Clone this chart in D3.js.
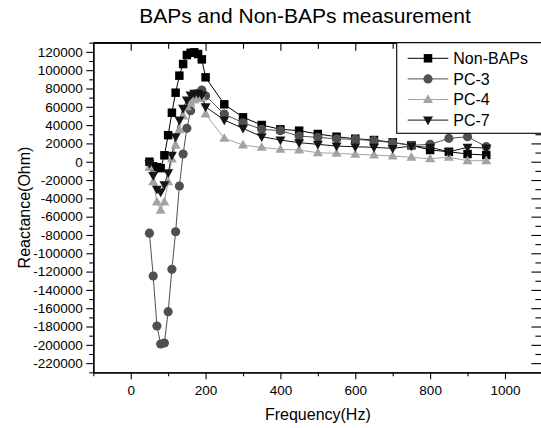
<!DOCTYPE html>
<html>
<head>
<meta charset="utf-8">
<script src="https://cdn.jsdelivr.net/npm/d3@7"></script>
<style>
	html, body { margin: 0; padding: 0; background: #ffffff; }
	svg { display: block; font-family: Arial, 'Liberation Sans', sans-serif; }
</style>
</head>
<body>
<div id="chart"></div>
<script>
const freqs = [50, 60, 70, 80, 90, 100, 110, 120, 130, 140, 150, 160, 170, 180, 190, 200,
	250, 300, 350, 400, 450, 500, 550, 600, 650, 700, 750, 800, 850, 900, 950];

const nonBAPs = [0, -5000, -6000, -7000, 7000, 29000, 53500, 75400, 94000, 106700, 116500, 119000, 119500, 117600, 111800, 92200,
	62700, 48500, 40100, 35400, 33900, 30300, 27300, 25100, 23700, 21200, 17900, 12800, 10900, 8400, 7300];
const pc3 = [-78000, -124800, -179400, -199100, -198000, -163800, -117500, -76500, -26500, 8400, 36500, 55700, 72800, 74700, 78300, 72000,
	52000, 42600, 35400, 33900, 28000, 26600, 25000, 24400, 23000, 20800, 17900, 19000, 25500, 27300, 16400];
const pc4 = [-6000, -22000, -44000, -53000, -44000, -22000, 3000, 18000, 35000, 50000, 60000, 64000, 67400, 69000, 70000, 52100,
	25500, 18200, 15700, 13500, 12800, 9800, 9200, 8100, 7300, 6200, 4800, 3300, 4800, 1100, 1100];
const pc7 = [-2000, -15000, -30000, -33000, -25000, -12000, 7000, 27300, 45500, 58300, 67400, 72800, 74700, 74700, 72800, 60000,
	45500, 36500, 27300, 23700, 20800, 19000, 17100, 16400, 15700, 14600, 17100, 15700, 10900, 15700, 15000];

const seriesNames = ['Non-BAPs', 'PC-3', 'PC-4', 'PC-7'];
const xTicks = [0, 200, 400, 600, 800, 1000];
const xMinorTicks = [-100, 100, 300, 500, 700, 900, 1100];
const yTicks = [120000, 100000, 80000, 60000, 40000, 20000, 0, -20000, -40000, -60000, -80000, -100000,
	-120000, -140000, -160000, -180000, -200000, -220000];
const yMinorTicks = [130000, 110000, 90000, 70000, 50000, 30000, 10000, -10000, -30000, -50000, -70000, -90000,
	-110000, -130000, -150000, -170000, -190000, -210000, -230000];

const W = 541, H = 428;
const plot = { left: 93.3, right: 542.4, top: 42.7, bottom: 372.3 };

const styles = {
	'Non-BAPs': { color: '#000000', line: '#000000', shape: d3.symbolSquare, size: 72 },
	'PC-3': { color: '#505050', line: '#505050', shape: d3.symbolCircle, size: 66 },
	'PC-4': { color: '#a3a3a3', line: '#a3a3a3', shape: 'up', size: 10 },
	'PC-7': { color: '#151515', line: '#151515', shape: 'down', size: 10 }
};

const series = seriesNames.map((name, i) => ({
	name,
	values: [nonBAPs, pc3, pc4, pc7][i].map((v, j) => ({ f: freqs[j], v }))
}));

const x = d3.scaleLinear().domain([-100, 1100]).range([plot.left, plot.right]);
const y = d3.scaleLinear().domain([-230000, 130000]).range([plot.bottom, plot.top]);

const svg = d3.select('#chart').append('svg').attr('width', W).attr('height', H);

function markerPath(st) {
	if (st.shape === 'up') {
		const s = st.size, h = s * 0.87;
		return `M0,${-h * 0.6}L${s / 2},${h * 0.4}L${-s / 2},${h * 0.4}Z`;
	}
	if (st.shape === 'down') {
		const s = st.size, h = s * 0.87;
		return `M0,${h * 0.6}L${s / 2},${-h * 0.4}L${-s / 2},${-h * 0.4}Z`;
	}
	return d3.symbol().type(st.shape).size(st.size)();
}

// axes
const noLabel = () => '';
const axes = svg.append('g').attr('class', 'axes');

axes.append('g')
	.attr('transform', `translate(0, ${plot.bottom})`)
	.call(d3.axisBottom(x).tickValues(xMinorTicks).tickSize(4).tickFormat(noLabel).tickSizeOuter(0));
axes.append('g')
	.attr('transform', `translate(0, ${plot.bottom})`)
	.call(d3.axisBottom(x).tickValues(xTicks).tickSize(7).tickPadding(6).tickSizeOuter(0).tickFormat(d => String(d)));

axes.append('g')
	.attr('transform', `translate(${plot.left}, 0)`)
	.call(d3.axisLeft(y).tickValues(yMinorTicks).tickSize(4).tickFormat(noLabel).tickSizeOuter(0));
axes.append('g')
	.attr('transform', `translate(${plot.left}, 0)`)
	.call(d3.axisLeft(y).tickValues(yTicks).tickSize(7).tickPadding(3.6).tickSizeOuter(0).tickFormat(d => String(d)));

// top and right frame with inward ticks
axes.append('g')
	.attr('transform', `translate(0, ${plot.top})`)
	.call(d3.axisBottom(x).tickValues(xMinorTicks.slice(1, -1)).tickSize(6).tickFormat(noLabel).tickSizeOuter(0));
axes.append('g')
	.attr('transform', `translate(0, ${plot.top})`)
	.call(d3.axisBottom(x).tickValues(xTicks).tickSize(8).tickFormat(noLabel).tickSizeOuter(0));
axes.append('g')
	.attr('transform', `translate(${plot.right}, 0)`)
	.call(d3.axisLeft(y).tickValues(yMinorTicks.slice(1, -1)).tickSize(7).tickFormat(noLabel).tickSizeOuter(0));
axes.append('g')
	.attr('transform', `translate(${plot.right}, 0)`)
	.call(d3.axisLeft(y).tickValues(yTicks).tickSize(11).tickFormat(noLabel).tickSizeOuter(0));

axes.selectAll('.domain').attr('stroke', '#000').attr('stroke-width', 1.3);
axes.selectAll('.tick line').attr('stroke', '#000').attr('stroke-width', 1.1);
axes.selectAll('.tick text').style('font-size', '13.5px').attr('fill', '#000');

// frame lines
axes.append('line').attr('x1', plot.left).attr('x2', plot.right).attr('y1', plot.top).attr('y2', plot.top)
	.attr('stroke', '#000').attr('stroke-width', 1.3);

// labels
svg.append('text')
	.attr('x', 305).attr('y', 22.7)
	.attr('text-anchor', 'middle')
	.style('font-size', '21px')
	.text('BAPs and Non-BAPs measurement');

svg.append('text')
	.attr('x', (plot.left + plot.right) / 2).attr('y', 420)
	.attr('text-anchor', 'middle')
	.style('font-size', '16px')
	.text('Frequency(Hz)');

svg.append('text')
	.attr('transform', 'rotate(-90)')
	.attr('x', -(plot.top + plot.bottom) / 2).attr('y', 30)
	.attr('text-anchor', 'middle')
	.style('font-size', '16px')
	.text('Reactance(Ohm)');

// series
const line = d3.line().x(d => x(d.f)).y(d => y(d.v));
const marks = svg.append('g').attr('class', 'marks');

series.forEach(s => {
	const st = styles[s.name];
	marks.append('path')
		.datum(s.values)
		.attr('fill', 'none')
		.attr('stroke', st.line)
		.attr('stroke-width', 1)
		.attr('d', line);
});

series.forEach(s => {
	const st = styles[s.name];
	marks.selectAll(null)
		.data(s.values)
		.join('path')
		.attr('transform', d => `translate(${x(d.f)}, ${y(d.v)})`)
		.attr('d', markerPath(st))
		.attr('fill', st.color);
});

// legend
const legend = svg.append('g').attr('class', 'legend');
legend.append('rect')
	.attr('x', 396.7).attr('y', plot.top)
	.attr('width', plot.right - 396.7).attr('height', 133.3 - plot.top)
	.attr('fill', '#ffffff')
	.attr('stroke', '#000')
	.attr('stroke-width', 1.1);

const rows = legend.selectAll('.row').data(seriesNames).join('g')
	.attr('class', 'row')
	.attr('transform', (d, i) => `translate(0, ${58.3 + i * 20.6})`);

rows.append('line')
	.attr('x1', 407.7).attr('x2', 448.3)
	.attr('stroke', d => styles[d].line)
	.attr('stroke-width', 1);
rows.append('path')
	.attr('transform', 'translate(428, 0)')
	.attr('d', d => markerPath(styles[d]))
	.attr('fill', d => styles[d].color);
rows.append('text')
	.attr('x', 453.3).attr('y', 5.8)
	.style('font-size', '16px')
	.text(d => d);
</script>
</body>
</html>
